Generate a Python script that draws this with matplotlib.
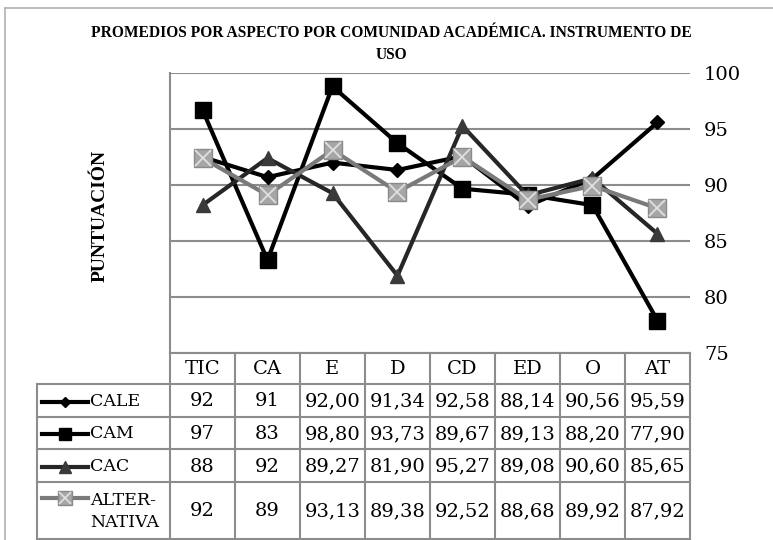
import matplotlib.pyplot as plt
from matplotlib.lines import Line2D

# aspectos evaluados
categorias = ["TIC", "CA", "E", "D", "CD", "ED", "O", "AT"]

# valores
cale = [92.5, 90.7, 92.00, 91.34, 92.58, 88.14, 90.56, 95.59]
cam = [96.7, 83.3, 98.80, 93.73, 89.67, 89.13, 88.20, 77.90]
cac = [88.2, 92.4, 89.27, 81.90, 95.27, 89.08, 90.60, 85.65]
alternativa = [92.4, 89.1, 93.13, 89.38, 92.52, 88.68, 89.92, 87.92]

# textos de la tabla de datos
tabla_cale = ["92", "91", "92,00", "91,34", "92,58", "88,14", "90,56", "95,59"]
tabla_cam = ["97", "83", "98,80", "93,73", "89,67", "89,13", "88,20", "77,90"]
tabla_cac = ["88", "92", "89,27", "81,90", "95,27", "89,08", "90,60", "85,65"]
tabla_alt = ["92", "89", "93,13", "89,38", "92,52", "88,68", "89,92", "87,92"]

nombres = ["CALE", "CAM", "CAC", "ALTER-\nNATIVA"]

estilos = [
    dict(color="black", marker="D", markersize=7, markerfacecolor="black", markeredgecolor="black"),
    dict(color="black", marker="s", markersize=11, markerfacecolor="black", markeredgecolor="black"),
    dict(color="#262626", marker="^", markersize=10, markerfacecolor="#3a3a3a", markeredgecolor="#3a3a3a"),
    dict(color="#7a7a7a", marker="s", markersize=13, markerfacecolor="#a6a6a6", markeredgecolor="#8a8a8a"),
]

W, H = 773, 540
fuente = "DejaVu Serif"
gris = "#8c8c8c"

fig = plt.figure(figsize=(W / 100, H / 100), dpi=100)

# eje del grafico de lineas
x0, x1, ytop, ybot = 170, 690, 73, 353
ax = fig.add_axes([x0 / W, 1 - ybot / H, (x1 - x0) / W, (ybot - ytop) / H])
xs = list(range(len(categorias)))
series = [cale, cam, cac, alternativa]
for serie, est in zip(series, estilos):
    ax.plot(xs, serie, linewidth=3, zorder=3, **est)
# cruz sobre los cuadrados de ALTERNATIVA
ax.plot(xs, alternativa, linestyle="none", marker="x", markersize=11,
        markeredgecolor="#e0e0e0", markeredgewidth=1.3, zorder=4)

ax.set_xlim(-0.5, len(categorias) - 0.5)
ax.set_ylim(75, 100)
ax.set_yticks([75, 80, 85, 90, 95, 100])
ax.yaxis.tick_right()
ax.tick_params(axis="y", length=0, pad=10, labelsize=14)
for lbl in ax.get_yticklabels():
    lbl.set_fontfamily(fuente)
ax.set_xticks([])
ax.grid(axis="y", color=gris, linewidth=1.5)
for lado in ["top", "right", "bottom"]:
    ax.spines[lado].set_visible(False)
ax.spines["left"].set_color(gris)
ax.spines["left"].set_linewidth(1.5)

# capa en pixeles para titulo, tabla y marco
capa = fig.add_axes([0, 0, 1, 1], zorder=5)
capa.set_xlim(0, W)
capa.set_ylim(H, 0)
capa.axis("off")
capa.patch.set_alpha(0)

# marco exterior
capa.plot([5, 5], [8, H], color="#b0b0b0", linewidth=1.2)
capa.plot([5, W], [8, 8], color="#b0b0b0", linewidth=1.2)

capa.text(391, 33, "PROMEDIOS POR ASPECTO POR COMUNIDAD ACADÉMICA. INSTRUMENTO DE",
          ha="center", va="center", fontsize=11.2, fontweight="bold", family="Liberation Serif")
capa.text(391, 55, "USO", ha="center", va="center", fontsize=11.2,
          fontweight="bold", family="Liberation Serif")
capa.text(100, 216, "PUNTUACIÓN", rotation=90, ha="center", va="center",
          fontsize=14, fontweight="bold", family="Liberation Serif")

# tabla de datos
filas = [353, 384, 417, 449, 482, 539]
cols = [x0 + 65 * i for i in range(len(categorias) + 1)]
lw = 1.5
capa.plot([x0, x1], [filas[0], filas[0]], color=gris, linewidth=lw)
for y in filas[1:]:
    capa.plot([37, x1], [y, y], color=gris, linewidth=lw)
for c in cols:
    capa.plot([c, c], [filas[0], filas[-1]], color=gris, linewidth=lw)
capa.plot([37, 37], [filas[1], filas[-1]], color=gris, linewidth=lw)

for i, cat in enumerate(categorias):
    capa.text((cols[i] + cols[i + 1]) / 2, (filas[0] + filas[1]) / 2 + 1, cat,
              ha="center", va="center", fontsize=14, family=fuente)

textos = [tabla_cale, tabla_cam, tabla_cac, tabla_alt]
for r, (fila_txt, nombre, est) in enumerate(zip(textos, nombres, estilos)):
    yc = (filas[r + 1] + filas[r + 2]) / 2 + 1
    for i, t in enumerate(fila_txt):
        capa.text((cols[i] + cols[i + 1]) / 2, yc, t, ha="center", va="center",
                  fontsize=14, family=fuente)
    ym = yc if r < 3 else filas[r + 1] + 16
    ms = est["markersize"] * 0.8
    capa.add_line(Line2D([42, 88], [ym, ym], linewidth=3, color=est["color"]))
    capa.add_line(Line2D([65], [ym], marker=est["marker"], markersize=ms,
                         markerfacecolor=est["markerfacecolor"],
                         markeredgecolor=est["markeredgecolor"], linestyle="none"))
    if r == 3:
        capa.add_line(Line2D([65], [ym], marker="x", markersize=ms * 0.85,
                             markeredgecolor="#e0e0e0", markeredgewidth=1.2, linestyle="none"))
    capa.text(90, yc, nombre, ha="left", va="center", fontsize=12.5, family=fuente,
              linespacing=1.35)

fig.savefig("out.png", dpi=100)
